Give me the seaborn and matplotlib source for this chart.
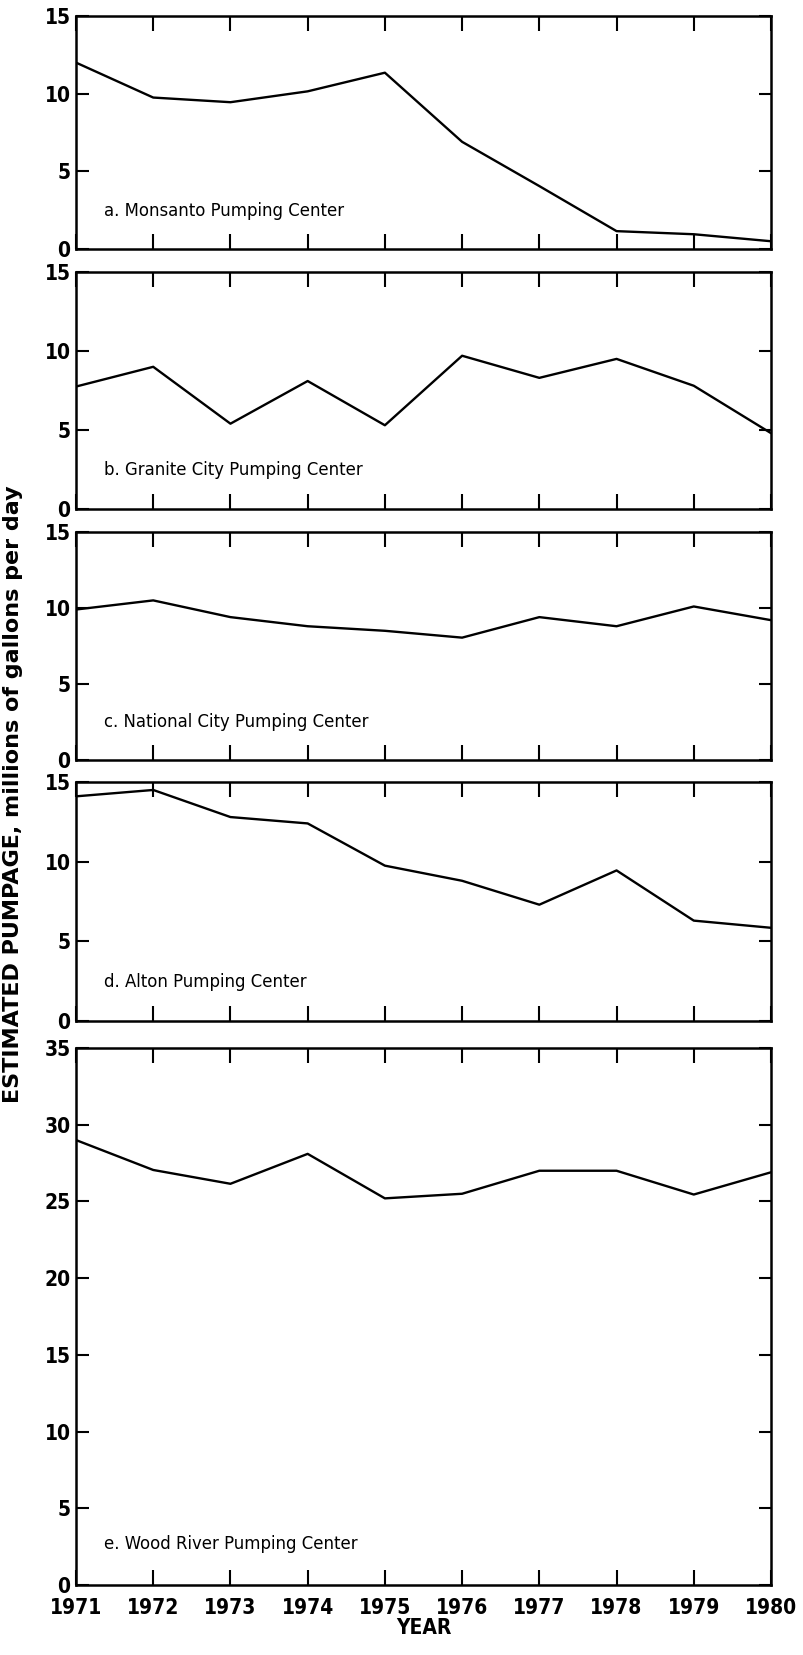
"""Estimated pumpage at five pumping centers, 1971-1980 (stacked panels)."""
import matplotlib

matplotlib.use("Agg")
import matplotlib.pyplot as plt
import pandas as pd
import seaborn as sns

years = [1971, 1972, 1973, 1974, 1975, 1976, 1977, 1978, 1979, 1980]

monsanto = [12.0, 9.75, 9.45, 10.15, 11.35, 6.9, 4.05, 1.15, 0.95, 0.5]
granite_city = [7.75, 9.0, 5.4, 8.1, 5.3, 9.7, 8.3, 9.5, 7.8, 4.8]
national_city = [9.9, 10.5, 9.4, 8.8, 8.5, 8.05, 9.4, 8.8, 10.1, 9.2]
alton = [14.1, 14.5, 12.8, 12.4, 9.75, 8.8, 7.3, 9.45, 6.3, 5.85]
wood_river = [29.0, 27.05, 26.15, 28.1, 25.2, 25.5, 27.0, 27.0, 25.45, 26.9]

panel_labels = [
    "a. Monsanto Pumping Center",
    "b. Granite City Pumping Center",
    "c. National City Pumping Center",
    "d. Alton Pumping Center",
    "e. Wood River Pumping Center",
]
series = [monsanto, granite_city, national_city, alton, wood_river]
y_max = [15, 15, 15, 15, 35]

sns.set_style("ticks")
plt.rcParams["font.family"] = ["DejaVu Sans"]
plt.rcParams["font.stretch"] = "condensed"
plt.rcParams["text.color"] = "black"
plt.rcParams["axes.labelcolor"] = "black"

fig = plt.figure(figsize=(8.04, 16.55), dpi=100)

# panel boxes in pixels: (top, bottom) of each frame
W, H = 804, 1655
left_px, right_px = 76, 771
frames = [(16, 249), (272, 509), (532, 760), (782, 1021), (1048, 1585)]

for i, (vals, label, ymax, (top, bot)) in enumerate(zip(series, panel_labels, y_max, frames)):
    ax = fig.add_axes([left_px / W, 1 - bot / H, (right_px - left_px) / W, (bot - top) / H])
    df = pd.DataFrame({"year": years, "pumpage": vals})
    sns.lineplot(data=df, x="year", y="pumpage", ax=ax, color="black", lw=1.7)

    ax.set_xlim(1971, 1980)
    ax.set_ylim(0, ymax)
    ax.set_xticks(years)
    ax.set_yticks(range(0, ymax + 1, 5))
    ax.tick_params(axis="both", direction="in", width=1.5, colors="black",
                   labelsize=15)
    ax.tick_params(axis="x", length=11, top=True, bottom=True, pad=9)
    ax.tick_params(axis="y", length=9, left=True, right=True, pad=4)
    for lab in ax.get_yticklabels() + ax.get_xticklabels():
        lab.set_fontweight("bold")
    for sp in ax.spines.values():
        sp.set_visible(True)
        sp.set_linewidth(1.8)
        sp.set_color("black")
    ax.set_ylabel("")
    if i < 4:
        ax.set_xticklabels([])
        ax.set_xlabel("")
    else:
        ax.set_xlabel("YEAR", fontsize=15, fontweight="bold", labelpad=0)

    ax.text(0.04, 0.165 if ymax == 15 else 0.077, label, transform=ax.transAxes,
            fontsize=13.2, va="center", ha="left")

fig.text(0.016, 0.52, "ESTIMATED PUMPAGE, millions of gallons per day",
         rotation=90, va="center", ha="center", fontsize=16, fontweight="bold",
         fontstretch="normal")

fig.savefig("out.png", dpi=100)
